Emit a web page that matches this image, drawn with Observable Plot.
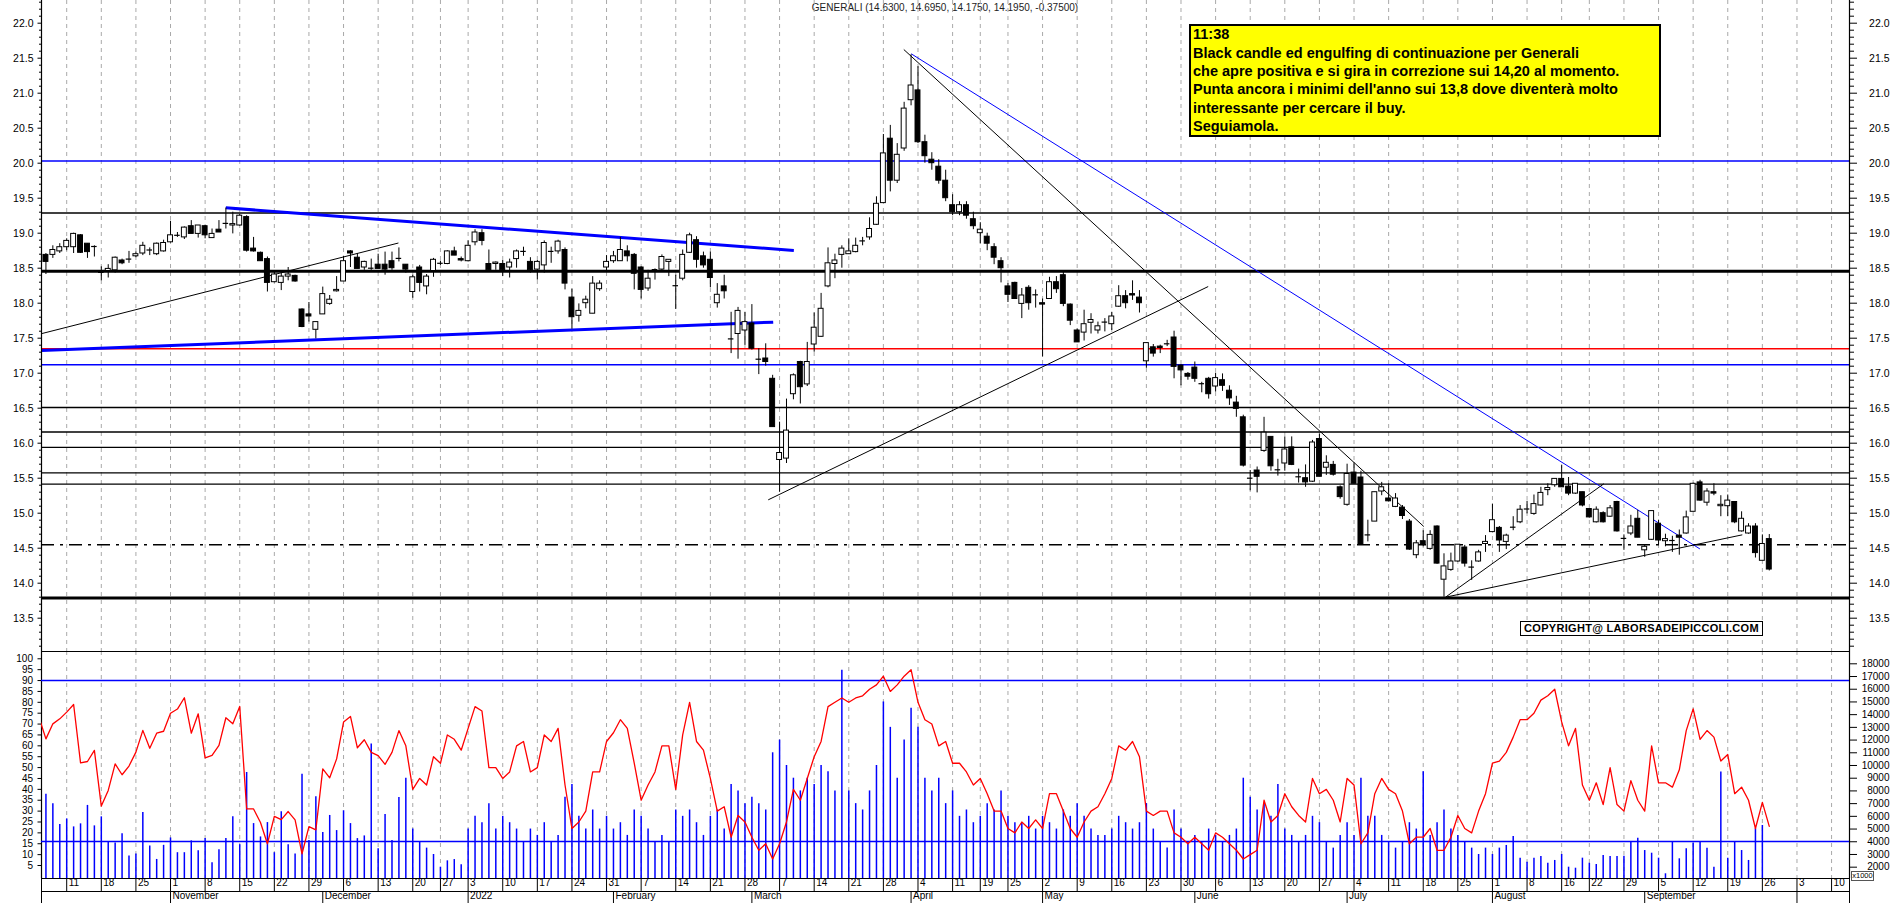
<!DOCTYPE html>
<html>
<head>
<meta charset="utf-8">
<script src="https://cdn.jsdelivr.net/npm/d3@7"></script>
<script src="https://cdn.jsdelivr.net/npm/@observablehq/plot@0.6"></script>
<style>
  html, body { margin: 0; padding: 0; background: #fff; }
  #wrap { position: relative; width: 1890px; height: 903px; overflow: hidden; background: #fff;
          font-family: "Liberation Sans", Arial, Helvetica, sans-serif; }
  #wrap svg { position: absolute; left: 0; }
  .title { position: absolute; left: 0; top: 2px; width: 1890px; text-align: center;
           font-size: 10px; line-height: 12px; color: #222; }
  .note { position: absolute; left: 1189px; top: 24px; width: 472px; height: 113px; box-sizing: border-box;
          background: #ffff00; border: 2.5px solid #000; padding: 0 0 0 2px; white-space: nowrap;
          font-weight: bold; font-size: 14.5px; line-height: 18.4px; color: #000; }
  .note .inner { position: relative; top: -0.8px; }
  .copy { position: absolute; left: 1520px; top: 621px; width: 243px; height: 15px; box-sizing: border-box;
          background: #fff; border: 1.5px solid #000; text-align: center; white-space: nowrap;
          font-weight: bold; font-size: 11px; line-height: 12px; letter-spacing: 0.3px; color: #000; }
  .x1000 { position: absolute; left: 1851px; top: 871px; width: 23px; height: 10px; box-sizing: border-box;
           background: #fff; border: 1px solid #555; font-size: 7.5px; line-height: 8px; text-align: center; color: #000; }
</style>
</head>
<body>
<div id="wrap">
  <div class="title">GENERALI (14.6300, 14.6950, 14.1750, 14.1950, -0.37500)</div>
</div>
<script>
// ---------------- calendar ----------------
const calendarStart = "2021-10-01";
const calendarEnd = "2022-10-14";
const holidays = ["2021-12-24", "2021-12-31", "2022-04-15", "2022-04-18", "2022-08-15"];
const firstCandleDate = "2021-10-06";
const firstOscDate = "2021-10-05";
const monthNames = ["January","February","March","April","May","June","July","August","September","October","November","December"];

// ---------------- candles (first = 2021-10-06) ----------------
const opens = [
18.69,18.69,18.74,18.80,18.80,18.97,18.85,18.81,18.44,18.46,
18.47,18.61,18.63,18.67,18.71,18.76,18.70,18.74,18.87,18.97,
18.94,19.10,18.99,19.10,18.93,19.05,19.14,19.11,19.11,19.23,
18.78,18.72,18.63,18.30,18.29,18.38,18.39,17.91,17.84,17.62,
17.84,17.99,18.17,18.31,18.74,18.65,18.51,18.50,18.55,18.55,
18.60,18.64,18.55,18.16,18.51,18.24,18.46,18.57,18.56,18.74,
18.63,18.60,18.87,19.00,18.56,18.56,18.56,18.51,18.63,18.74,
18.59,18.48,18.54,18.74,18.74,18.76,18.08,17.82,18.00,17.85,
18.20,18.51,18.60,18.60,18.74,18.69,18.51,18.21,18.48,18.48,
18.59,18.25,18.35,18.72,18.90,18.67,18.62,18.00,18.24,17.49,
17.56,17.61,17.71,17.20,17.21,16.92,15.76,15.78,16.70,17.16,
16.84,17.41,17.52,18.24,18.56,18.69,18.70,18.73,18.89,18.94,
19.12,19.43,20.35,19.75,20.21,20.90,21.04,20.30,20.05,19.95,
19.75,19.40,19.30,19.40,19.20,19.00,18.95,18.80,18.60,18.24,
18.29,17.99,18.22,18.12,18.00,18.06,18.30,18.40,17.98,17.61,
17.58,17.72,17.61,17.73,17.70,17.95,18.10,18.13,18.08,17.17,
17.37,17.38,17.42,17.51,17.11,16.99,17.08,16.85,16.92,16.81,
16.90,16.75,16.58,16.37,15.50,15.61,15.89,16.09,15.62,15.71,
15.94,15.52,15.50,15.45,16.06,15.65,15.69,15.37,15.12,15.58,
15.51,14.69,14.88,15.31,15.21,15.09,15.08,14.88,14.40,14.60,
14.49,14.81,14.05,14.19,14.31,14.51,14.23,14.31,14.56,14.73,
14.79,14.59,14.80,14.87,15.06,14.99,15.11,15.33,15.40,15.49,
15.38,15.28,15.30,15.06,14.87,15.00,14.95,15.16,14.64,14.71,
14.92,14.47,14.62,14.85,14.60,14.61,14.68,14.71,15.02,15.44,
15.15,15.30,15.10,15.10,15.16,14.74,14.71,14.81,14.32,14.63];
const highs = [
18.71,18.82,18.85,18.92,19.00,18.98,18.85,18.82,18.52,18.55,
18.66,18.63,18.74,18.73,18.87,18.79,18.86,18.90,19.17,19.01,
19.09,19.18,19.11,19.11,19.06,19.18,19.36,19.30,19.27,19.25,
18.94,18.73,18.66,18.44,18.44,18.51,18.40,17.92,18.01,17.73,
18.23,18.11,18.38,18.67,18.75,18.71,18.60,18.63,18.70,18.73,
18.73,18.79,18.55,18.40,18.54,18.41,18.64,18.60,18.75,18.80,
18.66,18.89,19.05,19.05,18.76,18.59,18.61,18.63,18.76,18.80,
18.65,18.61,18.89,18.80,18.90,18.79,18.20,17.99,18.10,18.38,
18.32,18.68,18.74,18.94,18.82,18.71,18.52,18.47,18.49,18.69,
18.62,18.40,18.76,19.00,18.95,18.73,18.73,18.28,18.40,17.87,
17.94,17.87,17.98,17.35,17.42,16.97,16.30,16.63,16.99,17.17,
17.44,17.86,18.14,18.79,18.70,18.82,18.92,18.93,18.94,19.22,
19.52,20.41,20.54,20.28,20.87,21.55,21.38,20.40,20.15,20.05,
19.90,19.55,19.45,19.45,19.30,19.15,19.00,18.85,18.65,18.28,
18.30,18.21,18.25,18.19,18.06,18.37,18.38,18.44,17.99,17.63,
17.90,17.85,17.73,17.78,17.87,18.25,18.18,18.32,18.18,17.43,
17.41,17.40,17.47,17.60,17.12,17.01,17.16,16.87,16.94,17.00,
16.99,16.82,16.67,16.40,15.61,15.66,16.37,16.09,15.77,16.09,
16.09,15.63,15.69,16.04,16.13,15.82,15.74,15.39,15.70,15.72,
15.60,14.90,15.30,15.44,15.42,15.28,15.11,14.91,14.61,14.75,
14.75,14.82,14.42,14.43,14.55,14.54,14.32,14.47,14.68,15.13,
14.81,14.70,14.95,15.11,15.17,15.26,15.37,15.42,15.49,15.68,
15.51,15.42,15.30,15.06,15.09,15.02,15.11,15.17,14.69,14.97,
15.04,14.54,15.03,14.90,14.70,14.67,14.76,15.03,15.43,15.47,
15.35,15.42,15.25,15.26,15.16,15.02,14.85,14.85,14.69,14.695];
const lows = [
18.41,18.64,18.71,18.75,18.71,18.71,18.64,18.66,18.32,18.36,
18.43,18.55,18.57,18.65,18.68,18.68,18.68,18.73,18.86,18.94,
18.91,18.99,18.93,18.92,18.93,19.01,19.06,18.99,19.10,18.73,
18.73,18.60,18.16,18.29,18.18,18.32,18.30,17.65,17.73,17.49,
17.84,17.97,18.16,18.31,18.51,18.49,18.47,18.47,18.49,18.40,
18.47,18.59,18.43,18.07,18.16,18.12,18.37,18.54,18.55,18.68,
18.59,18.59,18.82,18.82,18.47,18.47,18.38,18.36,18.50,18.67,
18.43,18.33,18.43,18.57,18.70,18.19,17.63,17.73,17.92,17.85,
18.17,18.44,18.57,18.60,18.59,18.19,18.06,18.17,18.33,18.46,
18.38,17.91,18.32,18.71,18.50,18.50,18.22,17.93,18.06,17.28,
17.20,17.40,17.33,16.98,17.10,16.23,15.30,15.71,16.62,16.56,
16.81,17.30,17.51,18.22,18.35,18.50,18.70,18.72,18.82,18.90,
19.11,19.43,19.59,19.71,20.17,20.82,20.28,20.00,19.90,19.70,
19.45,19.25,19.25,19.20,19.05,18.85,18.75,18.55,18.29,18.01,
18.06,17.78,17.90,17.93,17.23,18.06,18.14,17.95,17.68,17.44,
17.46,17.56,17.56,17.59,17.61,17.94,17.92,18.04,17.86,17.07,
17.23,17.28,17.38,16.92,16.82,16.90,16.87,16.72,16.63,16.73,
16.74,16.54,16.37,15.66,15.32,15.29,15.87,15.60,15.53,15.60,
15.68,15.43,15.37,15.44,15.52,15.54,15.53,15.20,15.10,15.42,
14.55,14.59,14.88,15.25,15.16,15.08,14.91,14.47,14.35,14.52,
14.47,14.27,13.80,14.17,14.30,14.23,14.04,14.30,14.44,14.72,
14.44,14.48,14.75,14.85,14.99,14.97,15.10,15.25,15.37,15.37,
15.25,15.27,15.09,14.93,14.86,14.86,14.94,14.73,14.47,14.68,
14.65,14.37,14.61,14.55,14.52,14.44,14.40,14.70,15.02,15.17,
15.10,15.25,14.95,14.95,14.85,14.73,14.70,14.36,14.32,14.175];
const closes = [
18.59,18.76,18.80,18.89,18.99,18.72,18.73,18.81,18.44,18.49,
18.65,18.57,18.63,18.70,18.82,18.76,18.85,18.86,18.97,18.97,
19.08,18.99,19.11,18.97,18.99,19.01,19.14,19.13,19.25,18.75,
18.74,18.60,18.29,18.41,18.38,18.41,18.31,17.66,17.81,17.73,
18.13,18.05,18.19,18.60,18.71,18.49,18.59,18.50,18.49,18.48,
18.50,18.64,18.48,18.37,18.29,18.38,18.62,18.57,18.74,18.68,
18.61,18.82,19.01,18.89,18.47,18.58,18.47,18.58,18.74,18.74,
18.47,18.59,18.86,18.74,18.88,18.28,17.80,17.89,18.05,18.28,
18.28,18.59,18.67,18.76,18.67,18.42,18.19,18.35,18.48,18.66,
18.62,18.25,18.69,18.97,18.62,18.54,18.36,18.12,18.17,17.49,
17.89,17.73,17.35,17.20,17.16,16.23,15.86,16.18,16.97,16.80,
17.16,17.65,17.92,18.57,18.61,18.78,18.74,18.82,18.89,19.06,
19.42,20.14,19.75,20.12,20.78,21.11,20.30,20.10,20.00,19.75,
19.50,19.30,19.40,19.25,19.10,19.05,18.85,18.65,18.50,18.12,
18.06,18.11,18.00,18.12,17.98,18.30,18.20,17.99,17.75,17.44,
17.70,17.76,17.67,17.73,17.81,18.10,18.00,18.11,18.00,17.43,
17.28,17.36,17.42,17.09,17.04,16.95,16.92,16.85,16.70,16.93,
16.82,16.64,16.49,15.68,15.50,15.52,16.15,15.67,15.62,15.91,
15.69,15.52,15.44,16.01,15.52,15.72,15.55,15.23,15.56,15.42,
14.55,14.69,15.30,15.37,15.17,15.21,14.96,14.48,14.57,14.55,
14.69,14.28,14.24,14.31,14.55,14.28,14.23,14.44,14.59,14.90,
14.61,14.68,14.80,15.05,15.06,15.13,15.29,15.36,15.49,15.37,
15.28,15.42,15.11,14.94,15.05,14.87,15.07,14.74,14.64,14.81,
14.65,14.52,15.03,14.61,14.63,14.61,14.65,14.94,15.42,15.18,
15.31,15.28,15.12,15.18,14.87,14.92,14.81,14.43,14.56,14.195];

// volume (right axis, x1000), first = 2021-10-06; the last session has no bar
const volumes = [
7730,6990,5360,5800,5170,5410,6860,5250,5960,3990,
3900,4640,2880,3040,6310,3670,2610,3720,4300,3140,
3140,4070,3300,4250,2350,3380,4250,5960,3770,9450,
5430,4380,5510,3140,6360,3770,3040,9320,4090,7550,
4720,6070,4880,6440,5430,4250,4460,11690,3460,6150,
4090,7490,
9000,5000,4000,3500,3000,2000,2500,2600,2200,5000,
6000,5500,7000,5000,6000,5500,5000,4000,5000,4500,
5500,4000,4500,7500,8500,6000,5000,6500,5000,6000,
5000,5500,4500,6500,6000,5000,4000,4500,4000,6500,
6000,6500,5500,4500,6000,6500,5000,8500,8000,7000,
7500,7000,6500,11000,12000,10000,9000,8000,9000,8500,
10000,9500,8000,17500,8000,7000,6500,8000,10000,15000,
13000,9000,12000,14500,13000,9000,8000,9000,7000,8000,
6000,6500,5500,6000,7000,6500,8000,6000,5500,5500,
6000,5000,6000,5500,5000,6500,6000,7000,6000,5000,
4500,4500,5000,6000,5500,5000,5500,7000,5000,4000,
3500,6500,5000,4000,4500,4000,5000,4500,4000,4500,
5000,9000,7500,6500,7000,6000,8500,5000,4500,4000,
4500,6000,5500,4000,3500,4500,5500,4500,9000,6000,
6000,4500,4000,3500,4000,5500,5000,9500,4500,5500,
6500,5000,4500,4000,3500,3000,3500,3000,3500,
3710,4410,2710,2390,2710,2840,2310,2530,3000,2000,
1920,2710,2310,2210,2920,2840,2840,2870,4020,4280,
3310,3100,2710,1480,4020,2660,3450,3900,4020,3490,
2000,9480,2710,4020,3310,2530,5020,5280,
null];

// oscillator (left 0-100 axis), first = 2021-10-05
const oscillator = [73,
63.2,70.1,72.4,75.5,79.0,52.2,52.8,57.9,32.3,39.5,
51.7,46.7,50.7,57.1,67.1,58.9,65.8,66.7,75.0,76.9,
82.1,65.8,74.7,54.5,55.6,60.2,72.9,70.1,78.1,31.0,
31.0,24.8,15.0,27.6,26.1,29.8,26.0,10.4,22.9,21.4,
49.4,45.3,54.0,70.9,73.5,59.1,62.8,57.0,55.5,51.5,
57.0,67.0,
60,40,45,42,55,52,65,63,58,68,
78,76,50,50,45,48,60,62,48,50,
65,62,68,42,22,25,30,48,48,62,
66,72,68,52,35,42,48,60,60,40,
65,80,62,58,45,30,32,18,28,25,
18,12,15,8,15,25,40,35,45,55,
62,78,80,82,80,82,83,86,88,92,
85,88,92,95,80,72,70,60,62,52,
52,48,42,45,38,30,30,22,20,25,
22,26,22,38,38,30,22,18,25,30,
32,38,45,60,58,62,55,30,28,30,
30,20,18,15,18,15,12,20,18,15,
12,8,10,12,35,25,28,38,32,28,
25,45,38,40,35,25,45,42,15,20,
38,45,40,38,30,15,18,18,22,12,
12,18,28,22,20,30,38,52,
53,57,64,72,72,75,81,83,86,71,
60,68,42,35,43,33,50,33,30,44,
35,30,60,43,43,41,49,67,77,63,
67,64,53,56,38,41,35,22,34,23];

// ---------------- horizontal levels and trend lines (price panel) ----------------
const levelPrices = [20.03, 19.29, 18.455, 17.35, 17.12, 16.51, 16.16, 15.94, 15.575, 15.415, 13.79];
const levelColors = ["#0000ff","#000","#000","#ff0000","#0000ff","#000","#000","#000","#000","#000","#000"];
const levelWidths = [1.5, 1.5, 3, 1.5, 1.5, 1.3, 1.3, 1.3, 1.3, 1.3, 3];
const dashLevelPrices = [14.55];

// trend lines: start day (trading days from first candle), start price, end day, end price
const trendStartDay = [-0.64, 25.99, -0.64, 104.36, 123.95, 125.02, 202.22, 202.22];
const trendStartPx  = [17.565, 19.362, 17.325, 15.191, 21.624, 21.563, 13.80, 13.80];
const trendEndDay   = [50.93, 108.06, 105.08, 167.93, 199.08, 238.97, 225.09, 245.10];
const trendEndPx    = [18.86, 18.753, 17.729, 18.238, 14.81, 14.49, 15.42, 14.691];
const trendColors   = ["#000","#0000ff","#0000ff","#000","#000","#0000ff","#000","#000"];
const trendWidths   = [1, 3, 3, 1, 1, 1, 1, 1];

// oscillator reference lines
const oscLevels = [90, 16];

// axis ticks
const priceMajor = d3.range(13.5, 22.01, 0.5);
const priceMinor = d3.range(13.1, 22.31, 0.1).filter(v => Math.abs(v * 2 - Math.round(v * 2)) > 0.01);
const oscTicks = d3.range(5, 100.1, 5);
const volTicks = d3.range(2000, 18001, 1000);

// ---------------- build trading days ----------------
const iso = d => d.toISOString().slice(0, 10);
const days = [];
for (let d = new Date(calendarStart + "T00:00:00Z"); d <= new Date(calendarEnd + "T00:00:00Z"); d.setUTCDate(d.getUTCDate() + 1)) {
  const w = d.getUTCDay();
  if (w !== 0 && w !== 6 && !holidays.includes(iso(d))) days.push(new Date(d));
}
const c0 = days.findIndex(d => iso(d) === firstCandleDate);
const o0 = days.findIndex(d => iso(d) === firstOscDate) - c0;
const xDomain = [-0.641, 260.59];

const candles = opens.map((o, k) => ({x: k, o, h: highs[k], l: lows[k], c: closes[k]}));
const vols = volumes.map((v, k) => ({x: k, v})).filter(d => d.v != null);
const osc = oscillator.map((r, k) => ({x: k + o0, r}));

const weekTicks = [], monthStarts = [];
days.forEach((d, j) => {
  const x = j - c0;
  if (j > 0 && +d3.utcMonday.floor(d) !== +d3.utcMonday.floor(days[j - 1]) && x >= xDomain[0] && x <= xDomain[1])
    weekTicks.push({x, label: String(d.getUTCDate())});
  if (j === 0 || d.getUTCMonth() !== days[j - 1].getUTCMonth())
    monthStarts.push({x, label: d.getUTCMonth() === 0 ? String(d.getUTCFullYear()) : monthNames[d.getUTCMonth()]});
});
const monthSeps = monthStarts.filter(m => m.x >= xDomain[0] && m.x <= xDomain[1]).map(m => m.x);

const levels = levelPrices.map((p, k) => ({p, color: levelColors[k], w: levelWidths[k]}));
const trends = trendStartDay.map((s, k) => ({x1: s, y1: trendStartPx[k], x2: trendEndDay[k], y2: trendEndPx[k], color: trendColors[k], w: trendWidths[k]}));

const W = 1890;
const fontFamily = '"Liberation Sans", Arial, Helvetica, sans-serif';
const style = {fontFamily, fontSize: "10px", color: "#000", background: "transparent", overflow: "visible"};
const grid = {stroke: "#a9a9a9", strokeDasharray: "4,4", strokeWidth: 1};
const fmt1 = d => d.toFixed(1);

// ---------------- price panel ----------------
const priceY = [13.0243, 22.3243];
const price = Plot.plot({
  width: W, height: 651, marginLeft: 41, marginRight: 41, marginTop: 0, marginBottom: 0,
  x: {domain: xDomain, axis: null, label: null},
  y: {domain: priceY, axis: null, label: null},
  color: {type: "identity"},
  style,
  marks: [
    Plot.ruleX(weekTicks, {x: "x", ...grid}),
    Plot.ruleY(levels, {y: "p", stroke: "color", strokeWidth: "w"}),
    Plot.ruleY(dashLevelPrices, {y: d => d, stroke: "#000", strokeWidth: 1.5, strokeDasharray: "13,6,3,6"}),
    Plot.link(trends, {x1: "x1", y1: "y1", x2: "x2", y2: "y2", stroke: "color", strokeWidth: "w"}),
    Plot.ruleX(candles, {x: "x", y1: "l", y2: "h", stroke: "#000", strokeWidth: 1}),
    Plot.rect(candles, {x1: d => d.x - 0.5, x2: d => d.x + 0.5, insetLeft: 1, insetRight: 1, y1: "o", y2: "c",
      fill: d => d.c >= d.o ? "#ffffff" : "#000000", stroke: "#000", strokeWidth: 1}),
    Plot.ruleY(candles.filter(d => Math.abs(d.o - d.c) < 0.012), {y: "c", x1: d => d.x - 0.4, x2: d => d.x + 0.4, stroke: "#000", strokeWidth: 1.2}),
    Plot.axisY({anchor: "left", ticks: priceMajor, tickSize: 3.5, tickPadding: 4.5, tickFormat: fmt1, fontSize: 10.5, label: null}),
    Plot.axisY({anchor: "left", ticks: priceMinor, tickSize: 2, tickFormat: () => "", label: null}),
    Plot.axisY({anchor: "right", ticks: priceMajor, tickSize: 7, tickPadding: 33, textAnchor: "end", tickFormat: fmt1, fontSize: 10.5, label: null}),
    Plot.axisY({anchor: "right", ticks: priceMinor, tickSize: 4, tickFormat: () => "", label: null}),
    Plot.ruleX(xDomain, {x: d => d, stroke: "#000", strokeWidth: 1.2})
  ]
});
price.style.top = "0px";

// ---------------- lower panel: volume (back) ----------------
const volY = [1110, 18968];
const vol = Plot.plot({
  width: W, height: 253, marginLeft: 41, marginRight: 41, marginTop: 1, marginBottom: 25,
  x: {domain: xDomain, axis: null, label: null},
  y: {domain: volY, axis: null, label: null},
  style,
  marks: [
    Plot.ruleX(weekTicks, {x: "x", ...grid}),
    Plot.ruleX(vols, {x: "x", y1: () => volY[0], y2: "v", stroke: "#0000ff", strokeWidth: 1.5}),
    Plot.axisY({anchor: "right", ticks: volTicks, tickSize: 7, tickPadding: 33, textAnchor: "end", tickFormat: d => String(d), fontSize: 10, label: null}),
    Plot.ruleY([volY[1]], {stroke: "#000", strokeWidth: 1.2}),
    Plot.ruleY([volY[0]], {stroke: "#000", strokeWidth: 1}),
    Plot.ruleY([volY[0]], {stroke: "#000", strokeWidth: 1, dy: 13}),
    Plot.axisX({ticks: weekTicks.map(d => d.x), tickSize: 13, tickFormat: () => "", label: null}),
    Plot.text(weekTicks, {x: "x", text: "label", frameAnchor: "bottom", dy: 7.5, dx: 2, textAnchor: "start", fontSize: 10}),
    Plot.axisX({ticks: monthSeps, tickSize: 12, dy: 13, tickFormat: () => "", label: null}),
    Plot.text(monthStarts, {x: "x", text: "label", frameAnchor: "bottom", dy: 20, dx: 2, textAnchor: "start", fontSize: 10}),
    Plot.ruleX(xDomain, {x: d => d, stroke: "#000", strokeWidth: 1.2}),
    Plot.axisX({ticks: xDomain, tickSize: 25, tickFormat: () => "", label: null})
  ]
});
vol.style.top = "650px";
{
  const s = d3.select(vol);
  s.append("defs").append("clipPath").attr("id", "mclip")
    .append("rect").attr("x", 39).attr("y", -40).attr("width", 1810).attr("height", 320);
  s.selectAll("text").filter(function () { return this.textContent === "October" && +this.getAttribute("x") < 41; })
    .attr("clip-path", "url(#mclip)");
}

// ---------------- lower panel: oscillator (front) ----------------
const oscY = [-0.97, 103.35];
const oscPlot = Plot.plot({
  width: W, height: 253, marginLeft: 41, marginRight: 41, marginTop: 1, marginBottom: 25,
  x: {domain: xDomain, axis: null, label: null},
  y: {domain: oscY, axis: null, label: null},
  style,
  marks: [
    Plot.ruleY(oscLevels, {y: d => d, stroke: "#0000ff", strokeWidth: 1.5}),
    Plot.line(osc, {x: "x", y: "r", stroke: "#ff0000", strokeWidth: 1.3, clip: true}),
    Plot.axisY({anchor: "left", ticks: oscTicks, tickSize: 3.5, tickPadding: 5, tickFormat: d => String(d), fontSize: 10, label: null})
  ]
});
oscPlot.style.top = "650px";

const wrap = document.getElementById("wrap");
wrap.appendChild(price);
wrap.appendChild(vol);
wrap.appendChild(oscPlot);

// ---------------- annotations ----------------
const noteLines = ["11:38",
  "Black candle ed engulfing di continuazione per Generali",
  "che apre positiva e si gira in correzione sui 14,20 al momento.",
  "Punta ancora i minimi dell'anno sui 13,8 dove diventerà molto",
  "interessante per cercare il buy.",
  "Seguiamola."];
const note = document.createElement("div");
note.className = "note";
const inner = document.createElement("div");
inner.className = "inner";
noteLines.forEach(t => { const l = document.createElement("div"); l.textContent = t; inner.appendChild(l); });
note.appendChild(inner);
wrap.appendChild(note);

const copy = document.createElement("div");
copy.className = "copy";
copy.textContent = "COPYRIGHT@ LABORSADEIPICCOLI.COM";
wrap.appendChild(copy);

const xk = document.createElement("div");
xk.className = "x1000";
xk.textContent = "x1000";
wrap.appendChild(xk);
</script>
</body>
</html>
